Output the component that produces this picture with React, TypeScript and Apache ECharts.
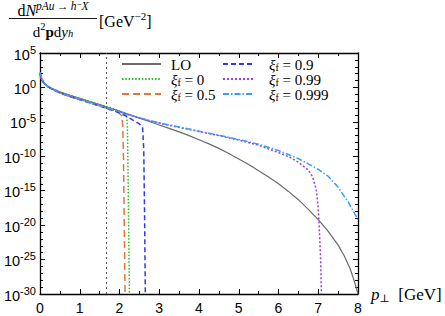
import React, { useEffect, useRef } from "react";
import * as echarts from "echarts";

// p_perp [GeV] and log10 of dN/d^2p dy [GeV^-2] for each curve
const loPt = [0, 0.05, 0.1, 0.2, 0.3, 0.5, 0.75, 1, 1.25, 1.5, 1.75, 2, 2.25, 2.5, 2.75, 3, 3.25, 3.5, 3.75, 4, 4.25, 4.5, 4.75, 5, 5.25, 5.5, 5.75, 6, 6.25, 6.5, 6.75, 7, 7.25, 7.5, 7.65, 7.8, 7.9, 8];
const loLog = [1.6, 1.0, 0.6, 0.15, -0.15, -0.65, -1.15, -1.6, -2.05, -2.5, -2.95, -3.45, -3.95, -4.45, -4.95, -5.45, -5.95, -6.45, -7.0, -7.6, -8.2, -8.85, -9.6, -10.4, -11.2, -12.1, -13.0, -14.0, -15.1, -16.3, -17.7, -19.2, -20.9, -22.9, -24.4, -26.3, -28.0, -30];

const xf0Pt = [0, 0.05, 0.1, 0.2, 0.3, 0.5, 0.75, 1, 1.25, 1.5, 1.75, 2.0, 2.1, 2.18, 2.2, 2.21, 2.23, 2.25];
const xf0Log = [1.8, 1.05, 0.62, 0.15, -0.15, -0.65, -1.13, -1.58, -2.02, -2.45, -2.9, -3.4, -3.75, -4.15, -6, -10, -20, -30];

const xf05Pt = [0, 0.05, 0.1, 0.2, 0.3, 0.5, 0.75, 1, 1.25, 1.5, 1.75, 1.9, 2.0, 2.06, 2.08, 2.1, 2.12, 2.14];
const xf05Log = [1.9, 1.1, 0.65, 0.12, -0.2, -0.72, -1.22, -1.68, -2.12, -2.6, -3.1, -3.45, -3.8, -4.15, -5.5, -10, -20, -30];

const xf09Pt = [0, 0.05, 0.1, 0.2, 0.3, 0.5, 0.75, 1, 1.25, 1.5, 1.75, 2, 2.2, 2.35, 2.5, 2.58, 2.61, 2.63, 2.65];
const xf09Log = [2.1, 1.15, 0.65, 0.1, -0.25, -0.8, -1.32, -1.78, -2.25, -2.7, -3.2, -3.7, -4.25, -4.8, -5.3, -5.75, -9, -18, -30];

const xf099Pt = [0, 0.05, 0.1, 0.2, 0.3, 0.5, 0.75, 1, 1.25, 1.5, 1.75, 2, 2.25, 2.5, 2.75, 3, 3.5, 4, 4.5, 5, 5.5, 6, 6.25, 6.5, 6.75, 6.85, 6.95, 7.0, 7.03, 7.06, 7.08];
const xf099Log = [2.0, 1.1, 0.65, 0.1, -0.25, -0.8, -1.3, -1.75, -2.2, -2.65, -3.1, -3.55, -4.0, -4.42, -4.82, -5.18, -5.8, -6.4, -7.0, -7.65, -8.4, -9.45, -10.05, -10.85, -12.0, -12.9, -14.8, -17.5, -21, -25, -30];

const xf0999Pt = [0, 0.05, 0.1, 0.2, 0.3, 0.5, 0.75, 1, 1.25, 1.5, 1.75, 2, 2.25, 2.5, 2.75, 3, 3.5, 4, 4.5, 5, 5.5, 6, 6.5, 6.75, 7, 7.25, 7.5, 7.75, 8];
const xf0999Log = [2.2, 1.2, 0.7, 0.1, -0.25, -0.8, -1.3, -1.75, -2.2, -2.65, -3.1, -3.55, -4.0, -4.4, -4.8, -5.15, -5.75, -6.35, -6.95, -7.55, -8.25, -9.15, -10.35, -11.1, -11.9, -12.9, -14.5, -16.6, -19.2];

const cutoffPt = 1.67;

const seriesNames = ["LO", "ξf = 0", "ξf = 0.5", "ξf = 0.9", "ξf = 0.99", "ξf = 0.999"];
const seriesColors = ["#6b6b6b", "#22c022", "#e0773a", "#2a3af2", "#a23be2", "#3a9cff"];
const seriesDash: any[] = ["solid", [1.5, 1.8], [7, 4], [5, 3], [2, 2], [6, 2, 1.5, 2]];
const seriesPt = [loPt, xf0Pt, xf05Pt, xf09Pt, xf099Pt, xf0999Pt];
const seriesLog = [loLog, xf0Log, xf05Log, xf09Log, xf099Log, xf0999Log];

const SERIF = "'Liberation Serif', 'DejaVu Serif', serif";
const SANS = "'Liberation Sans', Arial, sans-serif";

function legendFmt(name: string) {
  if (name.startsWith("ξf")) return `{xi|ξ}{sub|f}{t|${name.slice(2)}}`;
  return `{t|${name}}`;
}

const legendRich = {
  t: { fontFamily: SERIF, fontSize: 15, lineHeight: 16, color: "#000", verticalAlign: "bottom" },
  xi: { fontFamily: SERIF, fontSize: 15, fontStyle: "italic", lineHeight: 16, color: "#000", verticalAlign: "bottom" },
  sub: { fontFamily: SERIF, fontSize: 10, lineHeight: 9, color: "#000", verticalAlign: "bottom" },
};

export default function App() {
  const ref = useRef<HTMLDivElement>(null);
  useEffect(() => {
    const chart = echarts.init(ref.current!, null, { renderer: "svg" });
    const series: any[] = seriesNames.map((name, i) => ({
      name,
      type: "line",
      xAxisIndex: 0,
      yAxisIndex: 0,
      data: seriesPt[i].map((p, j) => [p, seriesLog[i][j]]),
      symbol: "none",
      showSymbol: false,
      clip: true,
      z: 2 + i,
      lineStyle: { color: seriesColors[i], width: i === 0 ? 1.2 : 1.5, type: seriesDash[i] },
      itemStyle: { color: seriesColors[i] },
      emphasis: { disabled: true },
      ...(i === 0
        ? {
            markLine: {
              silent: true,
              symbol: ["none", "none"],
              label: { show: false },
              lineStyle: { color: "#555", width: 1, type: [2, 3] },
              data: [{ xAxis: cutoffPt }],
            },
          }
        : {}),
    }));

    const xCommon = {
      type: "value",
      min: 0,
      max: 8,
      interval: 1,
      splitLine: { show: false },
      axisLine: { show: true, onZero: false, lineStyle: { color: "#000", width: 1.3 } },
      axisTick: { show: true, inside: true, length: 5, lineStyle: { color: "#000", width: 1 } },
      minorTick: { show: true, splitNumber: 2, length: 3, lineStyle: { color: "#000", width: 1 } },
    };
    const yCommon = {
      type: "value",
      min: -30,
      max: 5,
      interval: 5,
      splitLine: { show: false },
      axisLine: { show: true, onZero: false, lineStyle: { color: "#000", width: 1.3 } },
      axisTick: { show: true, inside: true, length: 5, lineStyle: { color: "#000", width: 1 } },
      minorTick: { show: true, splitNumber: 5, length: 3, lineStyle: { color: "#000", width: 1 } },
    };

    const legendCommon = {
      orient: "vertical",
      top: 57,
      itemHeight: 12,
      itemGap: 0,
      padding: 0,
      selectedMode: false,
      formatter: legendFmt,
      itemStyle: { opacity: 0, borderWidth: 0 },
    };

    chart.setOption({
      animation: false,
      backgroundColor: "#fff",
      grid: { left: 40, right: 87, top: 53, bottom: 22, containLabel: false, outerBoundsMode: "none" },
      xAxis: [
        {
          ...xCommon,
          position: "bottom",
          axisLabel: {
            show: true,
            margin: 7,
            color: "#000",
            fontFamily: SANS,
            fontSize: 14,
            showMinLabel: true,
            showMaxLabel: true,
          },
          name: "{i|p}{sub|⊥}{t|  [GeV]}",
          nameLocation: "end",
          nameGap: 13,
          nameTextStyle: {
            rich: {
              i: { fontFamily: SERIF, fontSize: 17, fontStyle: "italic", color: "#000", lineHeight: 18, verticalAlign: "bottom" },
              sub: { fontFamily: SERIF, fontSize: 11, color: "#000", lineHeight: 9, verticalAlign: "bottom" },
              t: { fontFamily: SERIF, fontSize: 17, color: "#000", lineHeight: 18, verticalAlign: "bottom" },
            },
          },
        },
        { ...xCommon, position: "top", axisLabel: { show: false } },
      ],
      yAxis: [
        {
          ...yCommon,
          position: "left",
          axisLabel: {
            show: true,
            margin: 4,
            showMinLabel: true,
            showMaxLabel: true,
            formatter: (v: number) => `{b|10}{s|${v}}`,
            rich: {
              b: { fontFamily: SANS, fontSize: 14.5, color: "#000", lineHeight: 18, verticalAlign: "bottom" },
              s: { fontFamily: SANS, fontSize: 11, color: "#000", lineHeight: 11, verticalAlign: "top" },
            },
          },
        },
        { ...yCommon, position: "right", axisLabel: { show: false } },
      ],
      legend: [
        {
          ...legendCommon,
          data: seriesNames.slice(0, 3),
          left: 121,
          itemWidth: 39,
          textStyle: { padding: [0, 0, 0, 5], rich: legendRich },
        },
        {
          ...legendCommon,
          data: seriesNames.slice(3),
          left: 222,
          itemWidth: 31,
          textStyle: { padding: [0, 0, 0, 10], rich: legendRich },
        },
      ],
      graphic: [
        {
          type: "text",
          x: 53,
          y: 9,
          style: {
            text: "{r|d}{i|N}{s|pAu\u2009→\u2009h}{ss|−}{s|X}",
            align: "center",
            verticalAlign: "middle",
            rich: {
              r: { fontFamily: SERIF, fontSize: 16, fill: "#000", lineHeight: 19, verticalAlign: "bottom" },
              i: { fontFamily: SERIF, fontSize: 16, fontStyle: "italic", fill: "#000", lineHeight: 19, verticalAlign: "bottom" },
              s: { fontFamily: SERIF, fontSize: 11.5, fontStyle: "italic", fill: "#000", lineHeight: 12, verticalAlign: "top" },
              ss: { fontFamily: SERIF, fontSize: 9, fill: "#000", lineHeight: 9, verticalAlign: "top" },
            },
          },
        },
        {
          type: "line",
          shape: { x1: 9, y1: 18.5, x2: 97, y2: 18.5 },
          style: { stroke: "#000", lineWidth: 0.9 },
        },
        {
          type: "text",
          x: 53,
          y: 30,
          style: {
            text: "{r|d}{s|2}{b|p}{r|d}{i|y}{sub|h}",
            align: "center",
            verticalAlign: "middle",
            rich: {
              r: { fontFamily: SERIF, fontSize: 15, fill: "#000", lineHeight: 18, verticalAlign: "bottom" },
              b: { fontFamily: SERIF, fontSize: 15, fontWeight: "bold", fill: "#000", lineHeight: 18, verticalAlign: "bottom" },
              i: { fontFamily: SERIF, fontSize: 15, fontStyle: "italic", fill: "#000", lineHeight: 18, verticalAlign: "bottom" },
              s: { fontFamily: SERIF, fontSize: 10.5, fill: "#000", lineHeight: 11, verticalAlign: "top" },
              sub: { fontFamily: SERIF, fontSize: 10.5, fontStyle: "italic", fill: "#000", lineHeight: 10, verticalAlign: "bottom" },
            },
          },
        },
        {
          type: "text",
          x: 99,
          y: 20,
          style: {
            text: "{r|[GeV}{s|−2}{r|]}",
            align: "left",
            verticalAlign: "middle",
            rich: {
              r: { fontFamily: SERIF, fontSize: 16, fill: "#000", lineHeight: 19, verticalAlign: "bottom" },
              s: { fontFamily: SERIF, fontSize: 11, fill: "#000", lineHeight: 11, verticalAlign: "top" },
            },
          },
        },
      ],
      series,
    });
    return () => chart.dispose();
  }, []);
  return <div ref={ref} style={{ position: "absolute", left: 0, top: 0, width: 445, height: 316 }} />;
}
